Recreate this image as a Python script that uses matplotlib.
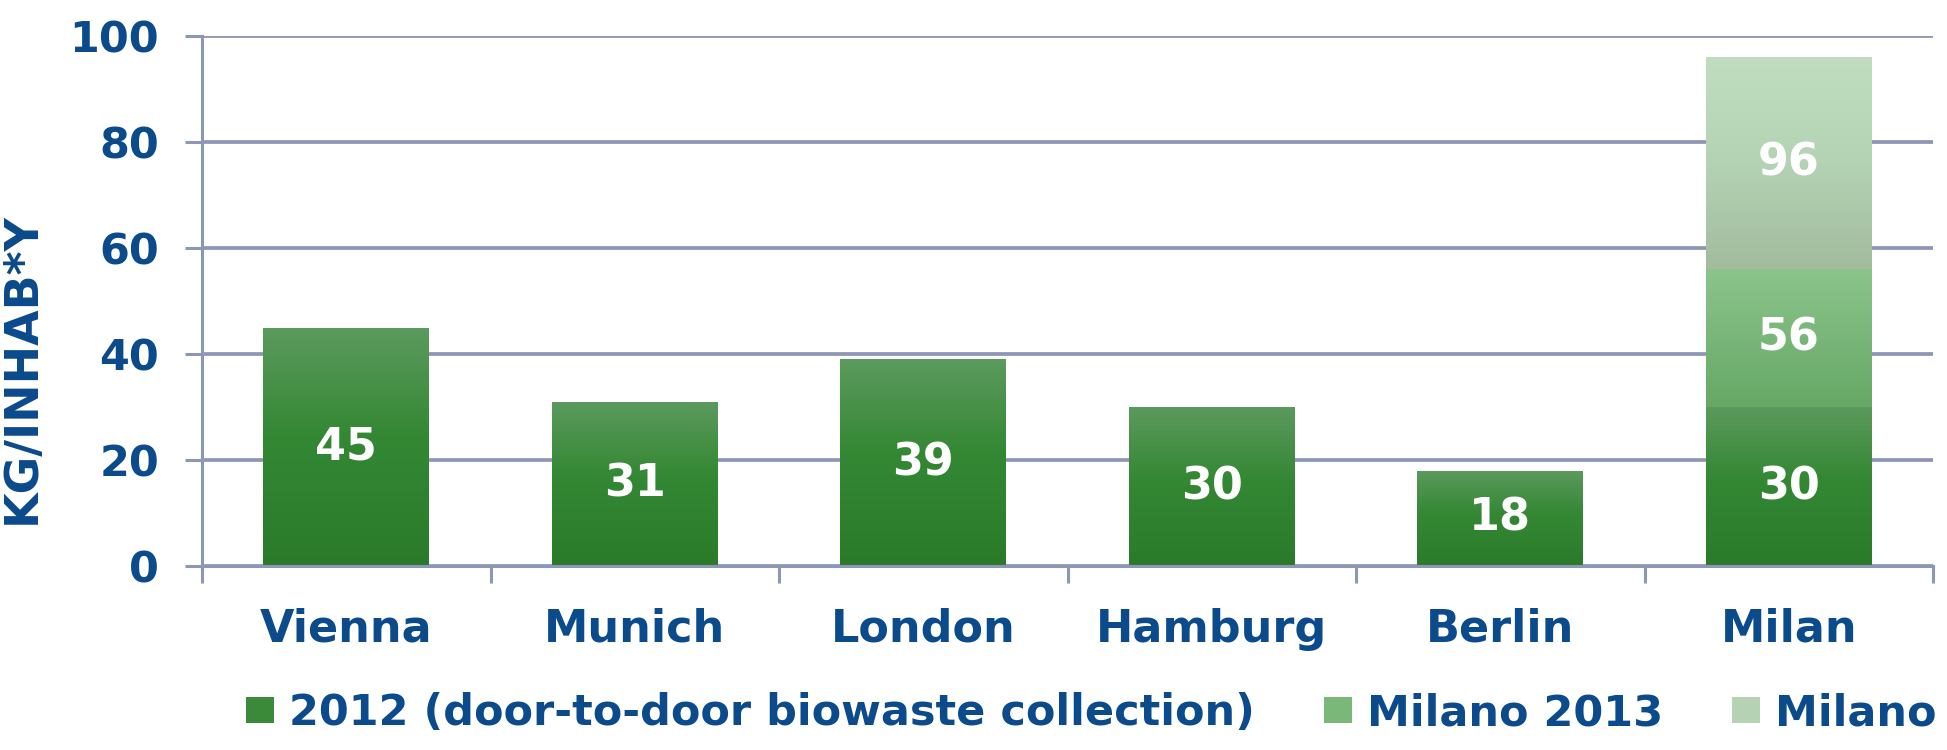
import numpy as np
import matplotlib
matplotlib.use("Agg")
import matplotlib.pyplot as plt
from matplotlib.colors import LinearSegmentedColormap
from matplotlib.patches import Patch

# values (kg per inhabitant per year)
cities = ["Vienna", "Munich", "London", "Hamburg", "Berlin", "Milan"]
biowaste_2012 = [45, 31, 39, 30, 18, 30]
milano_2013_total = 56
milano_next_total = 96
series_labels = ["2012 (door-to-door biowaste collection)", "Milano 2013", "Milano"]
y_ticks = [0, 20, 40, 60, 80, 100]

TEXT_BLUE = "#0b4a8b"
GRID = "#8e96b5"
FONT = "DejaVu Sans"

# gradient stops per series (bottom -> top)
STOPS = [
    [(0.0, "#2a7a2a"), (0.55, "#348834"), (1.0, "#5c9a5e")],
    [(0.0, "#66a866"), (1.0, "#8cc48c")],
    [(0.0, "#a2bb9d"), (0.5, "#b4d3b4"), (1.0, "#c0ddc0")],
]
LEGEND_COLORS = ["#3a8a3a", "#7ab87a", "#b5d3b3"]


def paint_gradient(ax, bar, stops):
    x0, y0 = bar.get_x(), bar.get_y()
    w, h = bar.get_width(), bar.get_height()
    if h <= 0:
        return
    cmap = LinearSegmentedColormap.from_list("bar_grad", stops)
    grad = np.linspace(0, 1, 256).reshape(-1, 1)
    im = ax.imshow(grad, cmap=cmap, origin="lower", aspect="auto",
                   extent=(x0, x0 + w, y0, y0 + h), zorder=2)
    im.set_clip_path(bar)
    bar.set_facecolor("none")


fig = plt.figure(figsize=(19.47, 7.5), dpi=100)
ax = fig.add_axes([202 / 1947, 1 - 566 / 750, (1933 - 202) / 1947, (566 - 36) / 750])

x = np.arange(len(cities))
width = 0.575

milan_idx = len(cities) - 1
seg2 = np.zeros(len(cities))
seg3 = np.zeros(len(cities))
seg2[milan_idx] = milano_2013_total - biowaste_2012[milan_idx]
seg3[milan_idx] = milano_next_total - milano_2013_total
bottom2 = np.array(biowaste_2012, dtype=float)
bottom3 = bottom2 + seg2

bars1 = ax.bar(x, biowaste_2012, width, color=LEGEND_COLORS[0], zorder=2)
bars2 = ax.bar(x, seg2, width, bottom=bottom2, color=LEGEND_COLORS[1], zorder=2)
bars3 = ax.bar(x, seg3, width, bottom=bottom3, color=LEGEND_COLORS[2], zorder=2)

for bars, stops in zip([bars1, bars2, bars3], STOPS):
    for b in bars:
        paint_gradient(ax, b, stops)

# value labels (cumulative totals, centred in each segment)
label_kw = dict(ha="center", va="center", color="white", fontsize=32,
                fontweight="bold", family=FONT, zorder=4)
for i, v in enumerate(biowaste_2012):
    ax.text(x[i], v / 2, f"{v}", **label_kw)
ax.text(x[milan_idx], (biowaste_2012[milan_idx] + milano_2013_total) / 2,
        f"{milano_2013_total}", **label_kw)
ax.text(x[milan_idx], (milano_2013_total + milano_next_total) / 2,
        f"{milano_next_total}", **label_kw)

ax.set_xlim(-0.5, len(cities) - 0.5)
ax.set_ylim(0, 100)
ax.set_yticks(y_ticks)
ax.set_yticklabels([str(t) for t in y_ticks])
ax.set_xticks(x)
ax.set_xticklabels(cities)
ax.set_xticks(np.arange(len(cities) + 1) - 0.5, minor=True)

ax.yaxis.grid(True, color=GRID, linewidth=2.7)
ax.set_axisbelow(True)

for side in ["top", "right"]:
    ax.spines[side].set_visible(False)
for side in ["left", "bottom"]:
    ax.spines[side].set_color(GRID)
    ax.spines[side].set_linewidth(2.2)

ax.tick_params(axis="y", direction="out", length=12, width=2.2, color=GRID,
               pad=19, labelsize=31, labelcolor=TEXT_BLUE)
ax.tick_params(axis="x", which="major", length=0, pad=30, labelsize=32,
               labelcolor=TEXT_BLUE)
ax.tick_params(axis="x", which="minor", direction="out", length=12, width=2.2,
               color=GRID)
for lab in ax.get_xticklabels() + ax.get_yticklabels():
    lab.set_fontweight("bold")
    lab.set_family(FONT)

fig.text(22 / 1947, 1 - 368 / 750, "KG/INHAB*Y", rotation=90, ha="center",
         va="center", fontsize=33, fontweight="bold", color=TEXT_BLUE, family=FONT)

handles = [Patch(facecolor=c, edgecolor="none") for c in LEGEND_COLORS]
leg = fig.legend(handles, series_labels, loc="center left",
                 bbox_to_anchor=(246 / 1947, 1 - 713 / 750), ncol=3, frameon=False,
                 borderpad=0, borderaxespad=0, handlelength=0.65, handleheight=0.56,
                 handletextpad=0.35, columnspacing=1.6,
                 prop=dict(family=FONT, weight="bold", size=31))
for t in leg.get_texts():
    t.set_color(TEXT_BLUE)

fig.savefig("out.png", dpi=100)
